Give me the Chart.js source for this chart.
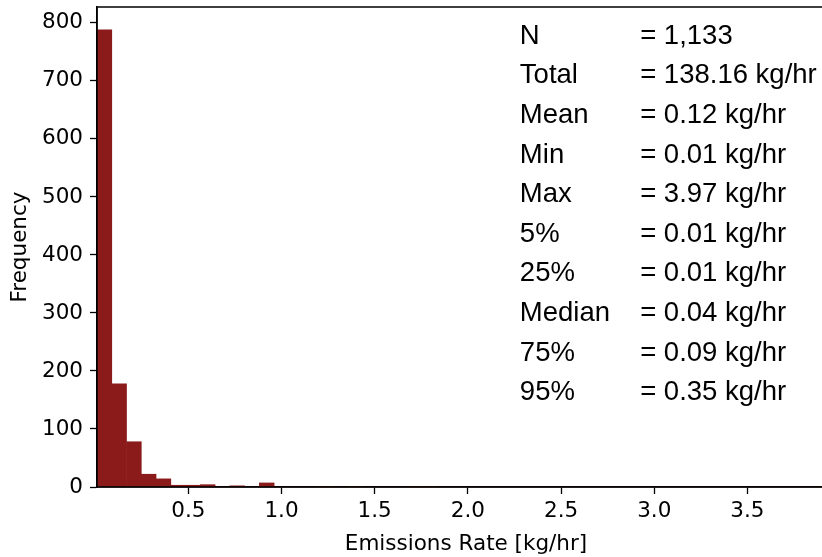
<!DOCTYPE html>
<html>
<head>
<meta charset="utf-8">
<script src="https://cdn.jsdelivr.net/npm/chart.js@4.4.1/dist/chart.umd.min.js"></script>
<style>
  html, body { margin:0; padding:0; background:#fff; overflow:hidden; }
  #wrap { width:840px; height:557px; }
</style>
</head>
<body>
<div id="wrap"><canvas id="hist" width="840" height="557"></canvas></div>
<script>
// histogram bins: 50 bins from min to max of the data
const binStart = 0.01;
const binWidth = 0.0792;
const counts = [788, 178, 78, 22, 14, 3, 3, 4, 0, 2,
                0, 7, 0, 0, 0, 1, 0, 1, 0, 0,
                0, 1, 1, 0, 0, 0, 0, 0, 0, 0,
                0, 0, 0, 0, 0, 0, 0, 0, 0, 0,
                0, 0, 0, 0, 0, 0, 0, 0, 0, 1];
const xTicks = [0.5, 1.0, 1.5, 2.0, 2.5, 3.0, 3.5];
const yTicks = [0, 100, 200, 300, 400, 500, 600, 700, 800];
const xMin = 0.01, xMax = 3.97, yMax = 827.4;

// summary text
const statNames  = ['N', 'Total', 'Mean', 'Min', 'Max', '5%', '25%', 'Median', '75%', '95%'];
const statValues = ['= 1,133', '= 138.16 kg/hr', '= 0.12 kg/hr', '= 0.01 kg/hr', '= 3.97 kg/hr',
                    '= 0.01 kg/hr', '= 0.01 kg/hr', '= 0.04 kg/hr', '= 0.09 kg/hr', '= 0.35 kg/hr'];

const barColor = '#8b1a1a';
const tickFont = { family: 'DejaVu Sans', size: 21.5 };

const points = counts.map((c, i) => ({ x: binStart + binWidth * (i + 0.5), y: c }));

// frame + stats box (axes-fraction positions)
const statsPlugin = {
  id: 'stats',
  afterDraw(chart) {
    const { ctx, chartArea: a } = chart;
    const w = a.right - a.left, h = a.bottom - a.top;
    ctx.save();
    ctx.strokeStyle = '#000';
    ctx.lineWidth = 1.5;
    ctx.strokeRect(a.left, a.top, w, h);
    ctx.fillStyle = '#000';
    ctx.font = '27.5px "Liberation Sans", Arial, sans-serif';
    ctx.textBaseline = 'alphabetic';
    ctx.textAlign = 'left';
    statNames.forEach((s, i) => {
      const y = a.top + h * (0.0765 + 0.0825 * i);
      ctx.fillText(s, a.left + w * 0.573, y);
      ctx.fillText(statValues[i], a.left + w * 0.736, y);
    });
    ctx.restore();
  }
};

new Chart(document.getElementById('hist'), {
  type: 'bar',
  data: {
    datasets: [{
      data: points,
      backgroundColor: barColor,
      borderWidth: 0,
      barPercentage: 1.0,
      categoryPercentage: 1.0
    }]
  },
  options: {
    responsive: false,
    animation: false,
    layout: { padding: { top: 7, right: 5, left: 0, bottom: 0 } },
    plugins: { legend: { display: false }, tooltip: { enabled: false } },
    scales: {
      x: {
        type: 'linear',
        offset: false,
        min: xMin, max: xMax,
        afterBuildTicks: s => { s.ticks = xTicks.map(v => ({ value: v })); },
        afterFit: s => { s.height = 70; s.paddingLeft = 0; s.paddingRight = 0; },
        grid: { offset: false, drawOnChartArea: false, drawTicks: true, tickLength: 7, color: '#000', tickWidth: 1.3 },
        border: { display: true, color: '#000', width: 1.5 },
        ticks: { color: '#000', font: tickFont, padding: 5, maxRotation: 0, autoSkip: false,
                 callback: v => v.toFixed(1) },
        title: { display: true, text: 'Emissions Rate [kg/hr]', color: '#000', font: tickFont,
                 padding: { top: 0, bottom: 0 } }
      },
      y: {
        min: 0, max: yMax,
        afterBuildTicks: s => { s.ticks = yTicks.map(v => ({ value: v })); },
        afterFit: s => { s.width = 97; s.paddingTop = 0; s.paddingBottom = 0; },
        grid: { drawOnChartArea: false, drawTicks: true, tickLength: 7, color: '#000', tickWidth: 1.3 },
        border: { display: true, color: '#000', width: 1.5 },
        ticks: { color: '#000', font: tickFont, padding: 7, autoSkip: false },
        title: { display: true, text: 'Frequency', color: '#000', font: tickFont,
                 padding: { top: 8, bottom: 0 } }
      }
    }
  },
  plugins: [statsPlugin]
});
</script>
</body>
</html>
